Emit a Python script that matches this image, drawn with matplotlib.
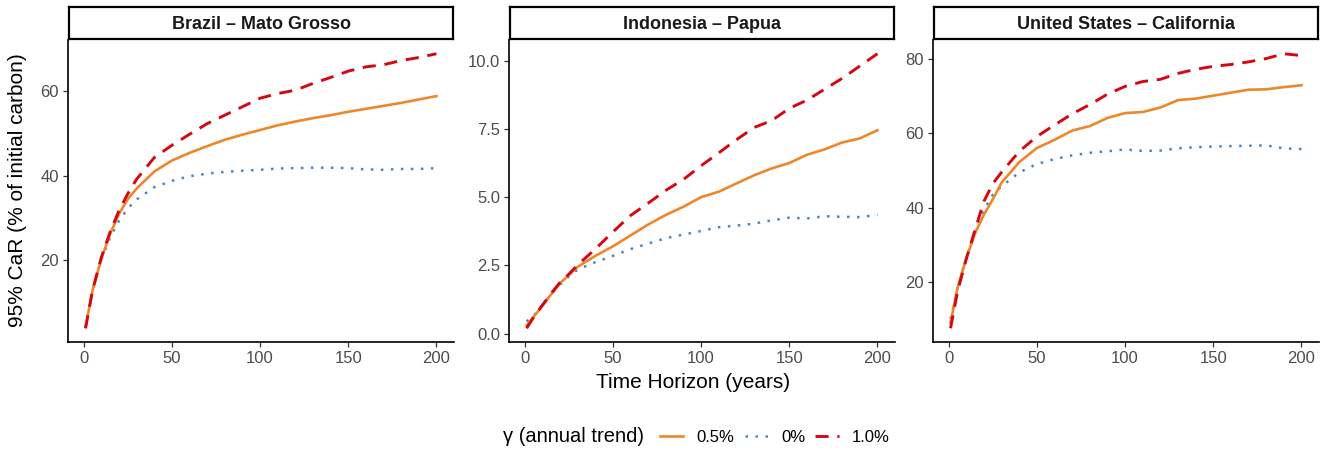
import matplotlib
matplotlib.use('Agg')
import matplotlib.pyplot as plt
from matplotlib.lines import Line2D

plt.rcParams['font.family'] = ['Liberation Sans', 'DejaVu Sans']

years = [1, 5, 10, 15, 20, 25, 30, 40, 50, 60, 70, 80, 90, 100,
         110, 120, 130, 140, 150, 160, 170, 180, 190, 200]

panels = ['Brazil \u2013 Mato Grosso', 'Indonesia \u2013 Papua',
          'United States \u2013 California']

# 95% CaR, gamma = 0.5%, 0%, 1.0%
brazil_05 = [4.3, 13, 20.5, 26.3, 31, 34.5, 37, 41, 43.6, 45.4, 47, 48.5,
             49.7, 50.8, 51.9, 52.8, 53.6, 54.3, 55.1, 55.8, 56.5, 57.2, 58, 58.8]
brazil_0 = [4.3, 13, 20.3, 25.5, 29.4, 32.3, 34.4, 37.3, 38.8, 39.9, 40.5, 40.9,
            41.2, 41.4, 41.7, 41.8, 41.9, 41.9, 41.8, 41.5, 41.4, 41.6, 41.6, 41.8]
brazil_10 = [4.0, 13, 20.8, 26.8, 31.8, 35.8, 39.2, 44.3, 47.2, 49.8, 52.3, 54.3,
             56.3, 58.3, 59.4, 60.2, 61.8, 63.2, 64.7, 65.7, 66.2, 67.2, 67.9, 68.8]

papua_05 = [0.3, 0.62, 1.02, 1.45, 1.85, 2.15, 2.45, 2.85, 3.2, 3.6, 4.0, 4.35,
            4.65, 5.0, 5.2, 5.5, 5.8, 6.05, 6.25, 6.55, 6.75, 7.0, 7.15, 7.45]
papua_0 = [0.45, 0.65, 1.05, 1.45, 1.8, 2.1, 2.35, 2.62, 2.85, 3.1, 3.3, 3.5,
           3.63, 3.76, 3.9, 3.96, 4.03, 4.15, 4.25, 4.22, 4.3, 4.28, 4.27, 4.35]
papua_10 = [0.2, 0.6, 1.05, 1.48, 1.88, 2.18, 2.52, 3.1, 3.73, 4.33, 4.78, 5.25,
            5.65, 6.15, 6.62, 7.1, 7.55, 7.8, 8.25, 8.55, 8.95, 9.35, 9.8, 10.25]

calif_05 = [9.0, 18.5, 26.5, 33.2, 38.2, 42.3, 46.8, 52.3, 56.1, 58.3, 60.8, 62.0,
            64.2, 65.5, 65.8, 67.0, 69.0, 69.4, 70.2, 71.0, 71.8, 71.9, 72.5, 73.0]
calif_0 = [10.0, 18.5, 26.5, 33.5, 39.5, 43.5, 45.8, 49.5, 51.8, 53.1, 54.1, 54.8,
           55.2, 55.7, 55.3, 55.4, 56.0, 56.3, 56.5, 56.6, 56.7, 56.8, 56.0, 55.8]
calif_10 = [7.5, 17.5, 26.3, 34.2, 41.8, 46.5, 49.6, 55.2, 59.2, 62.3, 65.3, 67.8,
            70.6, 72.7, 74.0, 74.6, 76.2, 77.3, 78.1, 78.6, 79.3, 80.2, 81.5, 81.0]

series = [(brazil_05, brazil_0, brazil_10),
          (papua_05, papua_0, papua_10),
          (calif_05, calif_0, calif_10)]
yticks = [[20, 40, 60], [0, 2.5, 5, 7.5, 10], [20, 40, 60, 80]]
ylabels = [['20', '40', '60'], ['0.0', '2.5', '5.0', '7.5', '10.0'],
           ['20', '40', '60', '80']]

c_orange = '#EC872C'
c_blue = '#4A86BE'
c_red = '#D40812'

W, H = 1328, 451
fig = plt.figure(figsize=(W / 100, H / 100), dpi=100)

lefts = [68, 509, 933]
width = 386
top, bottom = 40, 342

for i, left in enumerate(lefts):
    ax = fig.add_axes([left / W, 1 - bottom / H, width / W, (bottom - top) / H])
    s05, s0, s10 = series[i]
    ax.plot(years, s0, color=c_blue, lw=1.8, dashes=(1, 3.0), dash_capstyle='butt')
    ax.plot(years, s05, color=c_orange, lw=1.9)
    ax.plot(years, s10, color=c_red, lw=2.1, dashes=(4.5, 3.0))
    allv = list(s05) + list(s0) + list(s10)
    lo, hi = min(allv), max(allv)
    pad = (hi - lo) * 0.05
    ax.set_ylim(lo - pad, hi + pad)
    ax.set_xlim(1 - 199 * 0.05, 200 + 199 * 0.05)
    ax.set_xticks([0, 50, 100, 150, 200])
    ax.set_yticks(yticks[i])
    ax.set_yticklabels(ylabels[i])
    for sp in ['top', 'right']:
        ax.spines[sp].set_visible(False)
    for sp in ['left', 'bottom']:
        ax.spines[sp].set_linewidth(1.2)
        ax.spines[sp].set_color('black')
    ax.tick_params(length=3.5, width=0.9, color='#333333', labelsize=12,
                   labelcolor='#4D4D4D', pad=3)

    # facet strip
    sax = fig.add_axes([(left + 1) / W, 1 - 39 / H, (width - 2) / W, 32 / H])
    sax.set_xticks([])
    sax.set_yticks([])
    for sp in sax.spines.values():
        sp.set_linewidth(1.6)
        sp.set_color('black')
    sax.text(0.5, 0.45, panels[i], ha='center', va='center', fontsize=13,
             fontweight='bold', color='#1A1A1A', transform=sax.transAxes)

fig.text(18 / W, 1 - 190 / H, '95% CaR (% of initial carbon)', rotation=90,
         ha='center', va='center', fontsize=15)
fig.text(693 / W, 1 - 382 / H, 'Time Horizon (years)', ha='center',
         va='center', fontsize=15)

# legend
fig.text(503 / W, 1 - 437 / H, '\u03b3 (annual trend)', ha='left',
         va='center', fontsize=14.5)
handles = [Line2D([], [], color=c_orange, lw=1.9),
           Line2D([], [], color=c_blue, lw=1.8, dashes=(1, 3.0)),
           Line2D([], [], color=c_red, lw=2.1, dashes=(4.5, 3.0))]
fig.legend(handles, ['0.5%', '0%', '1.0%'], ncol=3, frameon=False,
           loc='center left', bbox_to_anchor=(660 / W, 1 - 437 / H),
           fontsize=12, handlelength=1.4, handletextpad=0.8,
           columnspacing=0.6, borderaxespad=0, borderpad=0)

plt.savefig('out.png', dpi=100)
